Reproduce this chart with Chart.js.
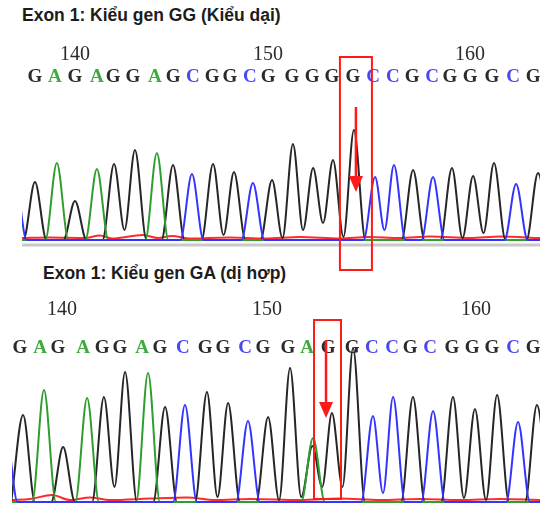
<!DOCTYPE html>
<html>
<head>
<meta charset="utf-8">
<script src="https://cdn.jsdelivr.net/npm/chart.js@4.4.1/dist/chart.umd.min.js"></script>
<style>
  html, body { margin: 0; padding: 0; background: #fff; }
  body { width: 540px; height: 505px; position: relative; overflow: hidden; }
  .title { position: absolute; font: bold 17.5px "Liberation Sans", Arial, sans-serif; line-height: 1; color: #1c1c1c; white-space: nowrap; }
  .wrap { position: absolute; left: 0; width: 540px; }
</style>
</head>
<body>
<div class="title" style="left:22px;top:7px">Exon 1: Kiểu gen GG (Kiểu dại)</div>
<div class="title" style="left:43px;top:265px">Exon 1: Kiểu gen GA (dị hợp)</div>
<div class="wrap" style="top:0;height:275px"><canvas id="topChart"></canvas></div>
<div class="wrap" style="top:260px;height:245px"><canvas id="botChart"></canvas></div>
<script>
// Sanger chromatograms, exon 1, positions 138-163 (x in base positions, y in signal units)

const FIRST_BASE = 138;

// --- wild type (GG) ---
const topBases = ['G','A','G','A','G','G','A','G','C','G','G','C','G','G','G','G','G','C','C','G','C','G','G','G','C','G'];
const topCallPos = [138.00,139.00,140.01,141.11,141.92,142.92,144.02,144.93,145.93,146.89,147.79,148.79,149.70,
  150.90,151.91,152.91,153.96,154.97,155.97,156.93,157.93,158.83,159.84,160.94,162.00,163.00];
const topPeakPos = [138.00,139.10,140.01,141.11,141.97,143.02,144.12,144.93,145.88,146.94,147.99,148.94,149.90,
  150.95,151.96,152.96,154.01,155.07,156.02,156.98,157.98,158.93,159.99,161.04,162.15,163.25];
const topPeakHeight = [580,770,390,710,760,900,870,750,660,760,680,570,600,
  960,720,800,1100,630,750,700,630,720,640,770,560,670];
// valley toward the next peak of the same dye (null = trace drops to baseline)
const topValley = [null,null,null,null,100,null,null,null,null,50,null,null,20,
  100,170,30,null,100,null,null,null,20,70,null,null,null];
const topExtraPeaks = { C: [{ x: 137.0, h: 620, v: null }] };
const topNoisePos = [137.35,138.75,140.51,141.26,141.87,143.42,144.17,144.88,145.78,147.79,149.55,
  151.30,153.31,154.72,156.32,157.83,159.84,161.34,163.35];
const topNoiseHeight = [20,25,20,45,15,50,20,40,15,25,15,30,15,30,20,35,20,35,20];

// --- heterozygous (GA) ---
const botBases = ['G','A','G','A','G','G','A','G','C','G','G','C','G','G','A','G','G','C','C','G','C','G','G','G','C','G'];
const botCallPos = [138.00,138.98,139.85,141.07,142.00,142.87,143.95,144.82,145.94,147.02,147.89,148.97,149.84,
  151.06,151.99,153.01,154.18,155.15,156.13,157.01,157.98,159.05,160.03,161.00,162.03,163.00];
const botPeakPos = [138.15,139.17,140.10,141.27,142.09,143.12,144.24,145.07,146.04,147.11,148.14,149.11,150.09,
  151.16,152.28,153.20,154.23,155.20,156.18,157.15,158.13,159.10,160.17,161.25,162.27,163.19];
const botPeakHeight = [870,1120,550,1040,1050,1300,1290,950,970,1100,990,810,850,
  1340,640,890,1540,860,1050,1050,910,1050,930,1070,800,970];
const botValley = [null,null,null,null,150,null,null,null,null,50,null,null,20,
  50,null,150,null,90,null,null,null,40,20,null,null,null];
const botExtraPeaks = { G: [{ x: 152.25, h: 560, v: 150 }], C: [{ x: 137.3, h: 720, v: null }] };
const botNoisePos = [137.61,138.49,139.56,140.44,141.41,142.39,144.34,146.14,147.50,149.21,151.65,
  153.59,155.54,157.49,159.44,161.39,163.34];
const botNoiseHeight = [20,30,70,20,45,20,35,45,20,30,20,35,20,30,20,30,20];

const DYE = { G: '#262626', A: '#2f9e2f', C: '#3434ff', T: '#ff2a2a' };
const LETTER = { G: '#2b2b2b', A: '#3faa3f', C: '#4848f4' };
const HALF = 0.58;

function channelTrace(bases, pos, hts, valleys, ch, extra, xmin, xmax) {
  const peaks = [];
  bases.forEach((b, i) => { if (b === ch) peaks.push({ x: pos[i], h: hts[i], v: valleys[i] }); });
  (extra[ch] || []).forEach(p => peaks.push(p));
  peaks.sort((a, b) => a.x - b.x);
  const pts = [];
  peaks.forEach((p, k) => {
    const prev = peaks[k - 1], next = peaks[k + 1];
    if (!(prev && prev.v != null)) pts.push({ x: p.x - HALF, y: 0 });
    pts.push({ x: p.x, y: p.h });
    if (next && p.v != null) pts.push({ x: (p.x + next.x) / 2, y: p.v });
    else pts.push({ x: p.x + HALF, y: 0 });
  });
  if (pts[0].x > xmin) pts.unshift({ x: xmin, y: 0 });
  if (pts[pts.length - 1].x < xmax) pts.push({ x: xmax, y: 0 });
  return pts;
}

function line(label, color, data) {
  return { label, data, borderColor: color, borderWidth: 2, pointRadius: 0, fill: false,
    cubicInterpolationMode: 'monotone' };
}

const seqPlugin = {
  id: 'seq',
  afterDatasetsDraw(chart, args, o) {
    const { ctx } = chart;
    const xs = chart.scales.x, ys = chart.scales.y;
    ctx.save();
    if (o.rule != null) {
      ctx.strokeStyle = '#c9c9c9'; ctx.lineWidth = 3;
      const yy = ys.getPixelForValue(o.rule);
      ctx.beginPath(); ctx.moveTo(chart.chartArea.left, yy); ctx.lineTo(chart.chartArea.right, yy); ctx.stroke();
    }
    ctx.textAlign = 'center'; ctx.textBaseline = 'alphabetic';
    o.bases.forEach((b, i) => {
      const px = xs.getPixelForValue(o.callPos[i]);
      ctx.font = 'bold 19px "Liberation Serif", "Times New Roman", serif';
      ctx.fillStyle = LETTER[b];
      ctx.fillText(b, px, o.letterY);
      if ((FIRST_BASE + i) % 10 === 0) {
        ctx.font = '20px "Liberation Serif", "Times New Roman", serif';
        ctx.fillStyle = '#2b2b2b';
        ctx.fillText(String(FIRST_BASE + i), px + o.numShift, o.numY);
      }
    });
    // marked SNP
    const mx = xs.getPixelForValue(o.callPos[o.mark.index]);
    ctx.strokeStyle = '#ff1a1a'; ctx.fillStyle = '#ff1a1a'; ctx.lineWidth = 2;
    ctx.strokeRect(mx + o.mark.left, o.mark.top, o.mark.right - o.mark.left, o.mark.bottom - o.mark.top);
    const ax = mx + o.mark.arrowX;
    ctx.lineWidth = 2.5;
    ctx.beginPath(); ctx.moveTo(ax, o.mark.arrowFrom); ctx.lineTo(ax, o.mark.arrowTo - 12); ctx.stroke();
    ctx.beginPath();
    ctx.moveTo(ax - 7, o.mark.arrowTo - 16); ctx.lineTo(ax + 7, o.mark.arrowTo - 16); ctx.lineTo(ax, o.mark.arrowTo);
    ctx.closePath(); ctx.fill();
    ctx.restore();
  }
};

function makeChart(id, cfg) {
  const ds = [
    line('C', DYE.C, channelTrace(cfg.bases, cfg.pos, cfg.hts, cfg.valley, 'C', cfg.extra, cfg.xmin, cfg.xmax)),
    line('A', DYE.A, channelTrace(cfg.bases, cfg.pos, cfg.hts, cfg.valley, 'A', cfg.extra, cfg.xmin, cfg.xmax)),
    line('G', DYE.G, channelTrace(cfg.bases, cfg.pos, cfg.hts, cfg.valley, 'G', cfg.extra, cfg.xmin, cfg.xmax)),
    line('T', DYE.T, cfg.noisePos.map((x, i) => ({ x, y: cfg.noiseHt[i] })))
  ];
  return new Chart(document.getElementById(id), {
    type: 'line',
    data: { datasets: ds },
    options: {
      responsive: true, maintainAspectRatio: false, animation: false, devicePixelRatio: 1,
      layout: { padding: cfg.padding },
      scales: {
        x: { type: 'linear', min: cfg.xmin, max: cfg.xmax, display: false },
        y: { min: cfg.ymin, max: cfg.ymax, display: false }
      },
      plugins: { legend: { display: false }, tooltip: { enabled: false }, seq: cfg.seq }
    },
    plugins: [seqPlugin]
  });
}

makeChart('topChart', {
  bases: topBases, pos: topPeakPos, hts: topPeakHeight, valley: topValley, extra: topExtraPeaks,
  noisePos: topNoisePos, noiseHt: topNoiseHeight,
  xmin: 137.35, xmax: 163.35, ymin: -80, ymax: 1200,
  padding: { left: 22, right: 0, top: 120, bottom: 27 },
  seq: { bases: topBases, callPos: topCallPos, numY: 60, letterY: 82, numShift: 0, rule: -50,
    mark: { index: 16, left: -13, right: 19, top: 57, bottom: 270, arrowX: 3, arrowFrom: 107, arrowTo: 192 } }
});

makeChart('botChart', {
  bases: botBases, pos: botPeakPos, hts: botPeakHeight, valley: botValley, extra: botExtraPeaks,
  noisePos: botNoisePos, noiseHt: botNoiseHeight,
  xmin: 137.61, xmax: 163.34, ymin: -30, ymax: 1620,
  padding: { left: 12, right: 0, top: 80, bottom: 0 },
  seq: { bases: botBases, callPos: botCallPos, numY: 55, letterY: 93, numShift: 4, rule: null,
    mark: { index: 15, left: -14, right: 13, top: 60, bottom: 239, arrowX: -2, arrowFrom: 80, arrowTo: 158 } }
});
</script>
</body>
</html>
